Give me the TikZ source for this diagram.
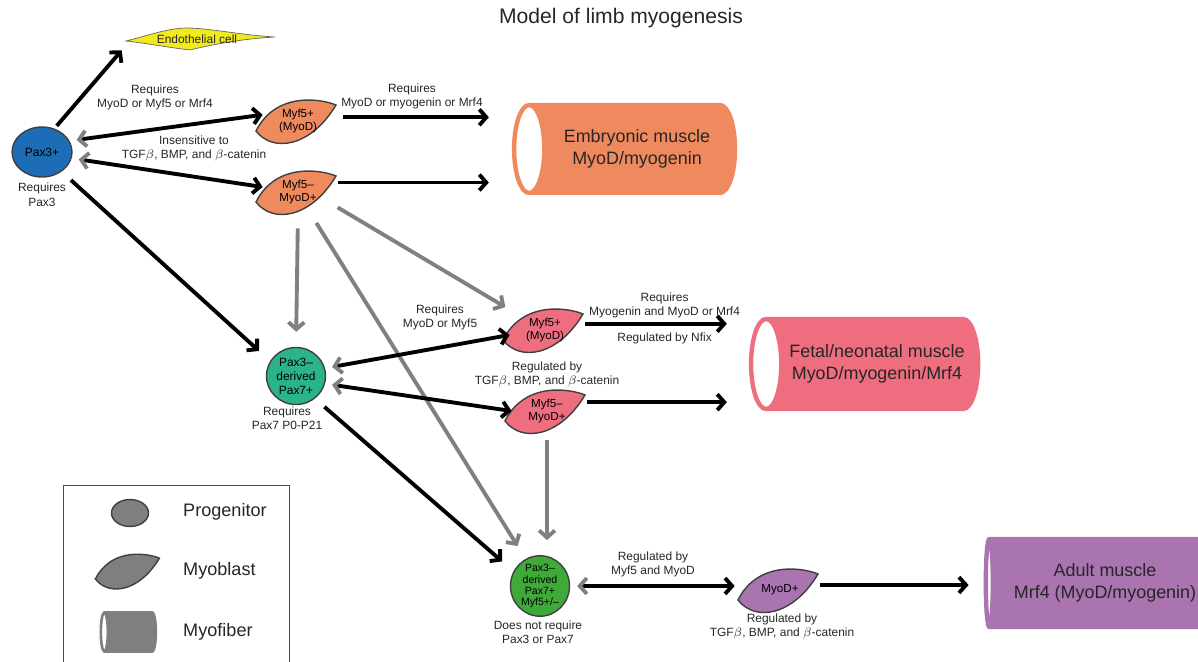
\documentclass[tikz,border=0pt]{standalone}
\usepackage{fontspec}
\setmainfont{Liberation Sans}
\usetikzlibrary{arrows.meta,shapes.geometric,positioning}

\definecolor{pax3blue}{HTML}{1D6DB6}
\definecolor{pax7teal}{HTML}{2BB38C}
\definecolor{satgreen}{HTML}{3DAA3A}
\definecolor{embryo}{HTML}{EF8A5F}
\definecolor{fetal}{HTML}{EE6E7F}
\definecolor{adultpurple}{HTML}{A974B0}
\definecolor{endoyellow}{HTML}{F2EA1B}
\definecolor{arrowgrey}{HTML}{808080}
\definecolor{leggrey}{HTML}{7F7F80}

\tikzset{
  lbl/.style={align=center, font=\fontsize{6.8}{8}\selectfont, text=black!85, inner sep=1pt},
  prog/.style={ellipse, draw=black!75, thick, fill=#1, align=center, inner sep=0pt,
    font=\fontsize{6.8}{8}\selectfont, minimum width=1.18cm, minimum height=1.14cm},
  myob/.style={align=center, inner sep=0pt, font=\fontsize{6.6}{7.6}\selectfont,
    minimum width=1.4cm, minimum height=0.8cm},
  muscle/.style={cylinder, shape border rotate=180, aspect=0.6, draw=#1, line width=2.5pt,
    cylinder uses custom fill, cylinder body fill=#1, cylinder end fill=white,
    align=center, font=\fontsize{10.2}{12.5}\selectfont, text=black!85},
  leg/.style={anchor=west, font=\fontsize{10.3}{12}\selectfont, text=black!85},
  blk/.style={line width=2.2pt, -{Straight Barb[length=4pt, width=9pt]}},
  gry/.style={line width=2.2pt, arrowgrey, -{Straight Barb[length=4pt, width=9pt]}},
  both/.style={line width=2.2pt,
    {Straight Barb[length=4pt, width=9pt, color=arrowgrey]}-{Straight Barb[length=4pt, width=9pt]}},
}

% myoblast: leaf outline plus a named node on top
\newcommand{\leafcell}[4]{%
  \filldraw[fill=#3, draw=black!75, thick, shift={(#2)}]
    (-42,10) .. controls (-22,-30) and (24,-22) .. (38,-16)
    .. controls (13,26) and (-25,32) .. cycle;
  \node[myob] (#1) at (#2) {#4};}

\begin{document}
\begin{tikzpicture}[x=0.02cm, y=-0.02cm]
\useasboundingbox (0,0) rectangle (1198,662);

\node[font=\fontsize{12}{14}\selectfont, text=black!85] (title) at (621,18) {Model of limb myogenesis};

% progenitors
\node[prog=pax3blue, minimum width=1.2cm, minimum height=1cm] (pax3) at (42,152) {Pax3+};
\node[lbl, below=2pt of pax3] (pax3req) {Requires\\Pax3};
\node[prog=pax7teal] (pax7) at (296,376) {Pax3--\\derived\\Pax7+};
\node[lbl] (pax7req) at (287,418) {Requires\\Pax7 P0-P21};
\node[prog=satgreen, font=\fontsize{6}{6.3}\selectfont, minimum height=1.08cm] (sat) at (540,586) {Pax3--\\derived\\Pax7+\\Myf5+/--};
\node[lbl] (satreq) at (538,632) {Does not require\\Pax3 or Pax7};

% endothelial cell
\filldraw[fill=endoyellow, draw=black!60, shift={(200,39)}]
  (-74,2) .. controls (-50,-4) and (-35,-10) .. (-15,-11)
  .. controls (10,-11) and (40,-4) .. (75,-2)
  .. controls (40,0) and (10,6) .. (-10,11)
  .. controls (-35,8) and (-55,4) .. cycle;
\node[lbl, minimum width=3cm, minimum height=0.44cm] (endo) at (197,39) {Endothelial cell};

% myoblasts
\leafcell{m5a}{298,121}{embryo}{Myf5+\\(MyoD)}
\leafcell{m5b}{298,192}{embryo}{Myf5--\\MyoD+}
\leafcell{f5a}{545,330}{fetal}{Myf5+\\(MyoD)}
\leafcell{f5b}{547,411}{fetal}{Myf5--\\MyoD+}
\leafcell{myod}{780,590}{adultpurple}{MyoD+}

% myofibers (cylinder: minimum height runs along the axis)
\node[muscle=embryo, minimum height=4.42cm, minimum width=1.76cm] (emb) at (637,149) {Embryonic muscle\\MyoD/myogenin};
\node[muscle=fetal, minimum height=4.42cm, minimum width=1.8cm] (fet) at (877,364) {Fetal/neonatal muscle\\MyoD/myogenin/Mrf4};
\node[muscle=adultpurple, minimum height=4.9cm, minimum width=1.76cm] (adu) at (1112,583) {};
\node[font=\fontsize{10.2}{12.5}\selectfont, text=black!85, align=center] (adutxt) at (1105,583) {Adult muscle\\Mrf4 (MyoD/myogenin)};

% embryonic wave
\draw[blk, shorten <=2pt] (pax3.62) -- (endo.south west);
\draw[both, shorten <=4pt] (pax3.22) -- (m5a.170);
\draw[both, shorten <=4pt] (pax3.-12) -- (m5b.172);
\draw[blk, shorten <=0.2cm, shorten >=0.46cm] (m5a.6) -- (m5a.6 -| emb.west);
\draw[blk, shorten <=0.1cm, shorten >=0.46cm] (m5b.15) -- (m5b.15 -| emb.west);
\node[lbl] at (155,97) {Requires\\MyoD or Myf5 or Mrf4};
\node[lbl] at (194,148) {Insensitive to\\TGF$\beta$, BMP, and $\beta$-catenin};
\node[lbl] at (412,96) {Requires\\MyoD or myogenin or Mrf4};

% fetal wave
\draw[blk, shorten <=0.25cm, shorten >=0.3cm] (pax3.-45) -- (pax7.150);
\draw[gry, shorten <=0.32cm, shorten >=0.3cm] (m5b.south) -- (pax7.north);
\draw[gry, shorten <=0.1cm, shorten >=0.1cm] (m5b.-20) -- (f5a.north west);
\draw[gry, shorten <=0.25cm, shorten >=0.3cm] (m5b.-60) -- (sat.118);
\draw[both, shorten <=4pt] (pax7.15) -- (f5a.188);
\draw[both, shorten <=4pt] (pax7.-15) -- (f5b.west);
\draw[blk, shorten <=0.1cm, shorten >=0.44cm] (f5a.10) -- (f5a.10 -| fet.west)
  node[lbl, midway, above=1pt] {Requires\\Myogenin and MyoD or Mrf4}
  node[lbl, midway, below=3pt] {Regulated by Nfix};
\draw[blk, shorten <=0.1cm, shorten >=0.44cm] (f5b.14) -- (f5b.14 -| fet.west);
\node[lbl] at (440,317) {Requires\\MyoD or Myf5};
\node[lbl] at (547,374) {Regulated by\\TGF$\beta$, BMP, and $\beta$-catenin};

% adult
\draw[blk, shorten <=0.25cm, shorten >=0.3cm] (pax7.-50) -- (sat.151);
\draw[gry, shorten <=0.18cm, shorten >=0.3cm] (f5b.south) -- (f5b.south |- sat.north);
\draw[both, shorten <=0.14cm, shorten >=0.2cm] (sat.east) -- (sat.east -| myod.west);
\draw[blk, shorten <=0.1cm, shorten >=0.3cm] (myod.8) -- (myod.8 -| adu.west);
\node[lbl] at (653,564) {Regulated by\\Myf5 and MyoD};
\node[lbl] at (782,626) {Regulated by\\TGF$\beta$, BMP, and $\beta$-catenin};

% legend
\draw[black!70] (63,485) rectangle (289,680);
\node[ellipse, draw=black!75, thick, fill=leggrey, minimum width=0.74cm, minimum height=0.54cm] (legprog) at (130,513) {};
\node[leg] (legprogtxt) at (177,512) {Progenitor};
\filldraw[fill=leggrey, draw=black!75, thick, shift={(129,571)}, scale=0.8]
  (-42,10) .. controls (-22,-30) and (24,-22) .. (38,-16)
  .. controls (13,26) and (-25,32) .. cycle;
\node[leg] (legmyobtxt) at (177,571) {Myoblast};
\node[muscle=leggrey, line width=1.5pt, minimum height=1.1cm, minimum width=0.78cm] (legfib) at (132,632) {};
\node[leg] (legfibtxt) at (177,632) {Myofiber};
\end{tikzpicture}
\end{document}
